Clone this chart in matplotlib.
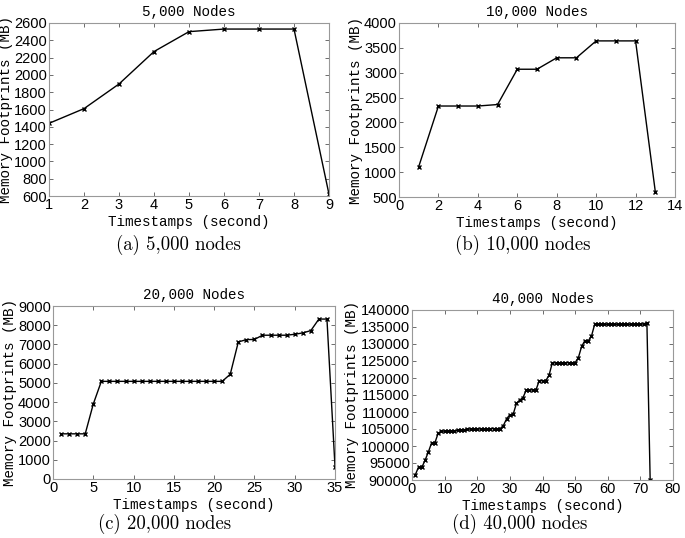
import matplotlib
matplotlib.use("Agg")
import matplotlib.pyplot as plt

# ---- data ----
x_a = [1, 2, 3, 4, 5, 6, 7, 8, 9]
y_a = [1440, 1610, 1895, 2270, 2500, 2530, 2530, 2530, 620]

x_b = list(range(1, 14))
y_b = [1110, 2330, 2330, 2330, 2360, 3070, 3070, 3300, 3300, 3640, 3640, 3640, 610]

x_c = list(range(1, 36))
y_c = [2350, 2350, 2350, 2350, 3900,
       5080, 5080, 5080, 5080, 5080, 5080, 5080, 5080, 5080, 5080, 5080, 5080, 5080, 5080, 5080, 5080,
       5450, 7130, 7250, 7260, 7480, 7480, 7480, 7480, 7530, 7600, 7720, 8320, 8320, 650]

x_d = list(range(1, 74))
y_d = [91500, 93800, 93700, 95800, 98200, 100900, 100900, 103700, 104300, 104400,
       104400, 104500, 104500, 104600, 104700, 104800, 104900, 105000, 105000, 105000,
       105000, 105000, 105000, 105100, 105100, 105100, 105100, 106000, 108000, 109200,
       109300, 112500, 113500, 114200, 116400, 116500, 116500, 116500, 119200, 119200,
       119200, 120800, 124400, 124500, 124500, 124500, 124500, 124500, 124500, 124500,
       126000, 129300, 131000, 130900, 132300, 135800, 135800, 135800, 135800, 135800,
       135800, 135800, 135800, 135800, 135800, 135800, 135800, 135800, 135800, 135800,
       135900, 136300, 90000]

titles = ["5,000 Nodes", "10,000 Nodes", "20,000 Nodes", "40,000 Nodes"]
captions = ["(a) 5,000 nodes", "(b) 10,000 nodes", "(c) 20,000 nodes", "(d) 40,000 nodes"]
xlims = [(1, 9), (0, 14), (0, 35), (0, 80)]
ylims = [(600, 2600), (500, 4000), (0, 9000), (90000, 140000)]
xticks = [list(range(1, 10)), list(range(0, 15, 2)), list(range(0, 36, 5)), list(range(0, 81, 10))]
yticks = [list(range(600, 2601, 200)), list(range(500, 4001, 500)),
          list(range(0, 9001, 1000)), list(range(90000, 140001, 5000))]
xlabel = "Timestamps (second)"
ylabel = "Memory Footprints (MB)"

W, H = 685, 538
fig = plt.figure(figsize=(W / 100, H / 100), dpi=100)

# axes boxes in pixels: left, top, right, bottom
boxes = [(49, 23, 329, 196), (399, 23, 675, 197), (53, 306, 335, 479), (412, 310, 673, 480)]
cap_pos = [(178, 245), (523, 245), (165, 524), (520, 524)]
series = [(x_a, y_a), (x_b, y_b), (x_c, y_c), (x_d, y_d)]

mono = "Liberation Mono"
sans = "Liberation Sans"

for i in range(4):
    l, t, r, b = boxes[i]
    ax = fig.add_axes([l / W, 1 - b / H, (r - l) / W, (b - t) / H])
    xs, ys = series[i]
    ax.plot(xs, ys, color="black", lw=1.0, marker="x", ms=3.5, mew=1.0)
    ax.set_xlim(*xlims[i])
    ax.set_ylim(*ylims[i])
    ax.set_xticks(xticks[i])
    ax.set_yticks(yticks[i])
    ax.tick_params(direction="in", top=True, right=True, length=3, width=0.6,
                   labelsize=10.5, pad=1.5, colors="#555555", labelcolor="black")
    for lab in ax.get_xticklabels() + ax.get_yticklabels():
        lab.set_family(sans)
    for s in ax.spines.values():
        s.set_color("#999999")
        s.set_linewidth(0.8)
    ax.set_title(titles[i], family=mono, fontsize=10.3, pad=5)
    ax.set_xlabel(xlabel, family=mono, fontsize=10.3, labelpad=2)
    ax.set_ylabel(ylabel, family=mono, fontsize=10.3, labelpad=1)
    cx, cy = cap_pos[i]
    fig.text(cx / W, 1 - cy / H, captions[i], family="cmr10", fontsize=13.5,
             ha="center", va="center")

fig.savefig("out.png", dpi=100)
